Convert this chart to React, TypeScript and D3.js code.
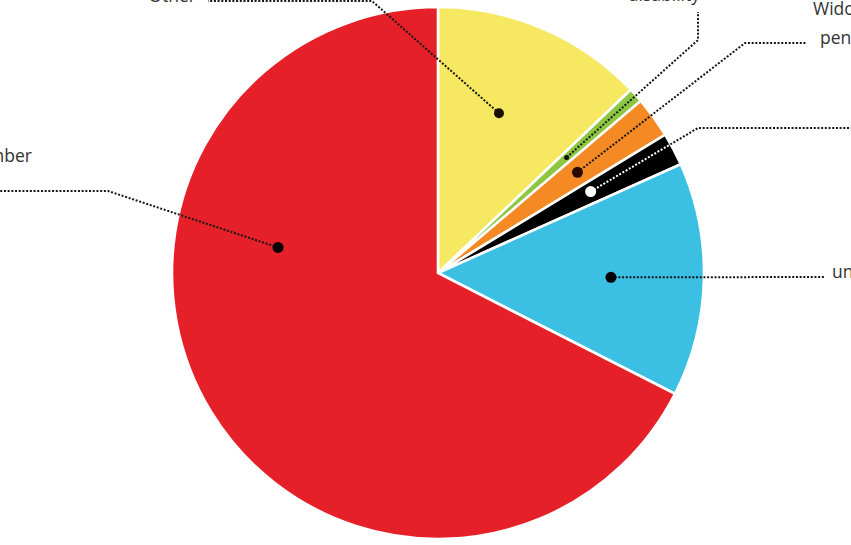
import React from "react";
import * as d3 from "d3";

const categories = ["Other", "disability", "Widow's pension", "Carer's allowance", "unemployment", "Number"];
const values = [12.9, 0.9, 2.5, 2.0, 14.2, 67.5];
const colors = ["#F6E961", "#8DC640", "#F58A24", "#000000", "#3BC0E4", "#E62029"];

const W = 851;
const H = 545;
const CX = 438;
const CY = 273;
const R = 266;

// leader layout: where label dot sits (fraction along slice, radius), polyline bends, text placement
const leaders = [
  { frac: 0.45, rad: 171, dotR: 5, dotFill: "#1a1200", bends: [[372, 1], [208, 1]], text: [{ x: 196, y: 2, anchor: "end" }] },
  { frac: 0.5, rad: 173, dotR: 2.5, dotFill: "#111", bends: [[698, 40], [698, 12]], text: [{ x: 700, y: 1, anchor: "end" }] },
  { frac: 0.5, rad: 172, dotR: 5.5, dotFill: "#2a0800", bends: [[745, 43], [806, 43]], text: [{ x: 813, y: 15, anchor: "start" }, { x: 820, y: 44, anchor: "start" }] },
  { frac: 0.45, rad: 173, dotR: 5.5, dotFill: "#ffffff", bends: [[698, 128], [900, 128]], text: [{ x: 905, y: 132, anchor: "start" }] },
  { frac: 0.5, rad: 173, dotR: 5.5, dotFill: "#000", bends: [[825, 277]], text: [{ x: 832, y: 278, anchor: "start" }] },
  { frac: 0.667, rad: 162, dotR: 5.5, dotFill: "#000", bends: [[108, 191], [-20, 191]], text: [{ x: 32, y: 162, anchor: "end" }] },
];

const labelLines = [["Other"], ["disability"], ["Widow's", "pension"], ["Carer's allowance"], ["unemployment"], ["Number"]];

export default function App() {
  const pie = d3.pie<number>().sort(null).value((d) => d);
  const arcs = pie(values);
  const arcGen = d3.arc<d3.PieArcDatum<number>>().innerRadius(0).outerRadius(R);

  const dotPos = (a: d3.PieArcDatum<number>, frac: number, rad: number) => {
    const ang = a.startAngle + (a.endAngle - a.startAngle) * frac;
    return [CX + Math.sin(ang) * rad, CY - Math.cos(ang) * rad];
  };

  return (
    <svg
      width={W}
      height={H}
      style={{ position: "absolute", left: 0, top: 0, background: "#fff" }}
      fontFamily="'Open Sans', 'Noto Sans', sans-serif"
    >
      <defs>
        {arcs.map((a, i) => (
          <clipPath id={`clip-${i}`} key={i}>
            <path d={arcGen(a) || ""} transform={`translate(${CX},${CY})`} />
          </clipPath>
        ))}
      </defs>
      <g transform={`translate(${CX},${CY})`}>
        {arcs.map((a, i) => (
          <path key={i} d={arcGen(a) || ""} fill={colors[i]} stroke="#fff" strokeWidth={2.6} strokeLinejoin="miter" />
        ))}
      </g>
      {arcs.map((a, i) => {
        const L = leaders[i];
        const [x, y] = dotPos(a, L.frac, L.rad);
        const pts: [number, number][] = [[x, y], ...(L.bends as [number, number][])];
        const d = d3.line()(pts) || "";
        const onDark = colors[i] === "#000000";
        return (
          <g key={i}>
            <path d={d} fill="none" stroke="#151515" strokeWidth={2} strokeDasharray="2 1.7" />
            {onDark && (
              <path d={d} fill="none" stroke="#ffffff" strokeWidth={2} strokeDasharray="2 1.7" clipPath={`url(#clip-${i})`} />
            )}
            <circle cx={x} cy={y} r={L.dotR} fill={L.dotFill} />
            {L.text.map((t, k) => (
              <text key={k} x={t.x} y={t.y} textAnchor={t.anchor as any} fontSize={17.5} fill="#333">
                {labelLines[i][k]}
              </text>
            ))}
          </g>
        );
      })}
    </svg>
  );
}
